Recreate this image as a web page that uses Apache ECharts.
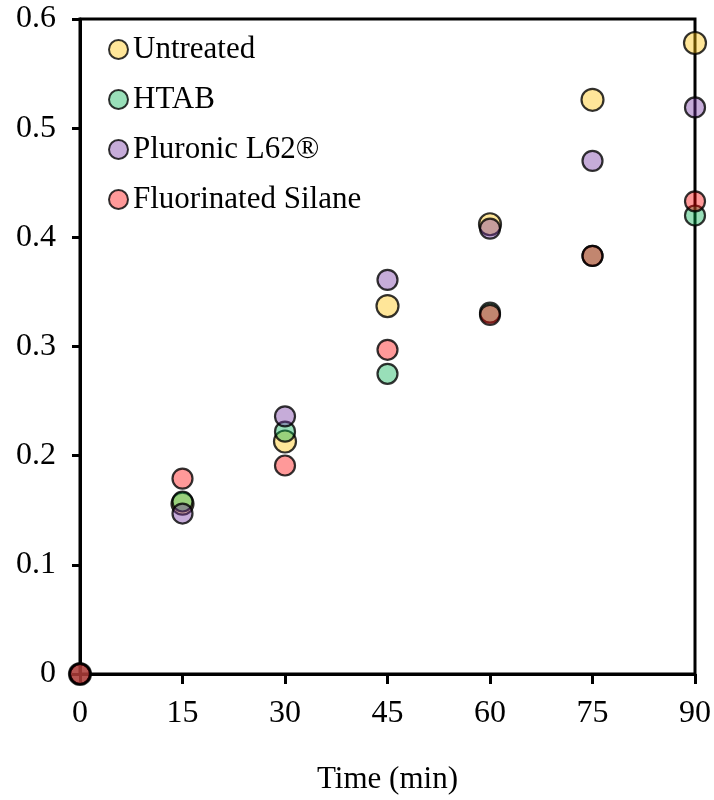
<!DOCTYPE html>
<html>
<head>
    <meta charset="utf-8">
    <script src="https://cdn.jsdelivr.net/npm/echarts@6/dist/echarts.min.js"></script>
    <style>
        body { margin: 0; padding: 0; background: #fff; }
        #chart { width: 714px; height: 800px; }
    </style>
</head>
<body>
    <div id="chart"></div>
    <script>
        // time points (min)
        var times = [0, 15, 30, 45, 60, 75, 90];
        var untreated = [0, 0.156, 0.213, 0.337, 0.412, 0.526, 0.578];
        var htab = [0, 0.158, 0.222, 0.275, 0.331, 0.383, 0.420];
        var pluronic = [0, 0.147, 0.236, 0.361, 0.408, 0.470, 0.519];
        var fluoro = [0, 0.179, 0.191, 0.297, 0.329, 0.383, 0.433];
        var xTicks = [0, 15, 30, 45, 60, 75, 90];

        var font = 'Liberation Serif, Times New Roman, serif';

        function pts(vals) {
            return times.map(function (t, i) { return [t, vals[i]]; });
        }

        function mk(name, vals, col, size) {
            return {
                name: name,
                type: 'scatter',
                data: pts(vals),
                symbol: 'circle',
                symbolSize: size,
                clip: false,
                itemStyle: { color: col, borderColor: '#000', borderWidth: 2.2 }
            };
        }

        var chart = echarts.init(document.getElementById('chart'));
        chart.setOption({
            animation: false,
            grid: {
                left: 80, right: 18, top: 19, bottom: 125,
                show: true, borderColor: '#000', borderWidth: 3
            },
            legend: {
                orient: 'vertical',
                left: 103, top: 29,
                icon: 'circle',
                itemWidth: 19, itemHeight: 19,
                itemGap: 19,
                textStyle: { fontFamily: font, fontSize: 31, color: '#000' }
            },
            xAxis: {
                type: 'value',
                min: 0, max: 90, interval: 15,
                name: 'Time (min)',
                nameLocation: 'middle',
                nameGap: 90,
                nameTextStyle: { fontFamily: font, fontSize: 31, color: '#000' },
                axisLine: { lineStyle: { color: '#000', width: 3 } },
                axisTick: { show: true, length: 10, lineStyle: { color: '#000', width: 3 } },
                axisLabel: {
                    margin: 24, fontFamily: font, fontSize: 32, color: '#000',
                    formatter: function (v) { return xTicks.indexOf(v) >= 0 ? String(v) : ''; }
                },
                splitLine: { show: false }
            },
            yAxis: {
                type: 'value',
                min: 0, max: 0.6, interval: 0.1,
                axisLine: { show: true, lineStyle: { color: '#000', width: 3 } },
                axisTick: { show: true, length: 8, lineStyle: { color: '#000', width: 3 } },
                axisLabel: {
                    margin: 24, fontFamily: font, fontSize: 32, color: '#000',
                    formatter: function (v) { return v === 0 ? '0' : v.toFixed(1); }
                },
                splitLine: { show: false }
            },
            series: [
                mk('Untreated', untreated, 'rgba(255,192,0,0.5)', 22),
                mk('HTAB', htab, 'rgba(0,176,80,0.5)', 20),
                mk('Pluronic L62®', pluronic, 'rgba(112,48,160,0.5)', 20),
                mk('Fluorinated Silane', fluoro, 'rgba(255,0,0,0.5)', 20)
            ]
        });
    </script>
</body>
</html>
